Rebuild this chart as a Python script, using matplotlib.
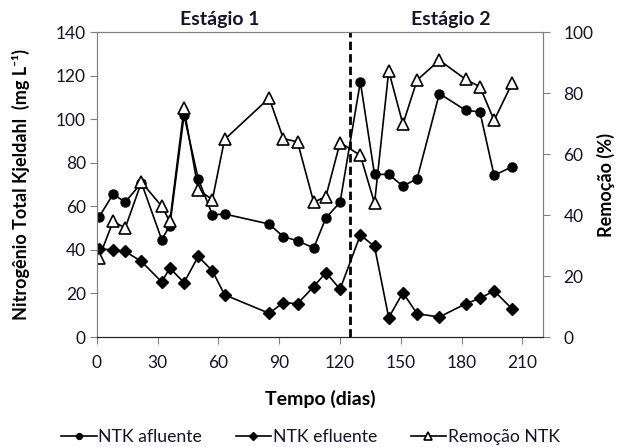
import matplotlib.pyplot as plt

plt.rcParams['font.family'] = ['Lato', 'DejaVu Sans']

# dias de coleta
dias = [1, 8, 14, 22, 32, 36, 43, 50, 57, 63, 85, 92, 99, 107, 113, 120,
        130, 137, 144, 151, 158, 169, 182, 189, 196, 205]

# NTK (mg/L) e remoção (%)
ntk_afluente = [55, 65.6, 62, 70.8, 44.7, 51.2, 101.8, 72.7, 56.1, 56.5, 51.9, 46.1, 44.2,
                40.9, 54.7, 61.9, 117.2, 74.7, 74.7, 69.3, 72.7, 111.8, 104.1, 103.4,
                74.2, 78.3]
ntk_efluente = [40.4, 40.1, 39.3, 34.7, 25.3, 31.7, 25.0, 37.0, 30.4, 19.4, 10.9, 15.8, 15.3,
                23.2, 29.6, 22.0, 46.9, 41.6, 8.9, 20.4, 10.7, 9.2, 15.3, 17.8, 21.2, 12.8]
remocao = [25.9, 37.9, 35.8, 50.8, 42.9, 37.9, 75.0, 48.3, 45.1, 64.8, 78.4, 65.1, 64.0,
           44.2, 46.1, 63.8, 59.6, 43.9, 87.3, 69.8, 84.3, 90.8, 84.5, 82.1, 71.1, 83.4]

x_ticks = [0, 30, 60, 90, 120, 150, 180, 210]
fim_estagio1 = 125

txt = '#14142a'
cinza = '#808080'

fig = plt.figure(figsize=(6.21, 4.47), dpi=100)
ax = fig.add_axes([0.156, 0.246, 0.718, 0.682])
ax2 = ax.twinx()

l1, = ax.plot(dias, ntk_afluente, '-o', color='black', lw=1.2, ms=6.5,
              label='NTK afluente')
l2, = ax.plot(dias, ntk_efluente, '-D', color='black', lw=1.2, ms=5.8,
              label='NTK efluente')
l3, = ax2.plot(dias, remocao, '-^', color='black', lw=1.2, ms=8.5,
               mfc='white', mec='black', mew=1.2, label='Remoção NTK')

ax.axvline(fim_estagio1, color='black', lw=2, ls=(0, (3, 1.5)))

ax.set_xlim(0, 220)
ax.set_ylim(0, 140)
ax2.set_ylim(0, 100)
ax.set_xticks(x_ticks)
ax.set_yticks(range(0, 141, 20))
ax2.set_yticks(range(0, 101, 20))

for a in (ax, ax2):
    for s in a.spines.values():
        s.set_color(cinza)
    a.spines['bottom'].set_color('#222222')
    a.tick_params(direction='out', length=5, color=cinza, labelsize=12.5,
                  labelcolor=txt)
ax.tick_params(axis='x', pad=8)
ax.tick_params(axis='y', pad=3)
ax2.tick_params(axis='y', pad=10)

ax.set_xlabel('Tempo (dias)', fontsize=14, fontweight='bold')
ax.xaxis.set_label_coords(0.5, -0.172)
ax.set_ylabel('Nitrogênio Total Kjeldahl  (mg L⁻¹)', fontsize=13, fontweight='bold')
ax.yaxis.set_label_coords(-0.15, 0.5)
ax2.set_ylabel('Remoção (%)', fontsize=13, fontweight='bold')
ax2.yaxis.set_label_coords(1.121, 0.5)

ax.text(60.6, 146, 'Estágio 1', ha='center', va='center', fontsize=14,
        fontweight='bold', color=txt)
ax.text(174.8, 146, 'Estágio 2', ha='center', va='center', fontsize=14,
        fontweight='bold', color=txt)

fig.legend(handles=[l1, l2, l3], loc='center', bbox_to_anchor=(0.5, 0.022),
           ncol=3, frameon=False, fontsize=12.7, handlelength=2.0,
           handletextpad=0.1, columnspacing=1.9, markerscale=0.65,
           labelcolor=txt)

fig.savefig('out.png', dpi=100)
